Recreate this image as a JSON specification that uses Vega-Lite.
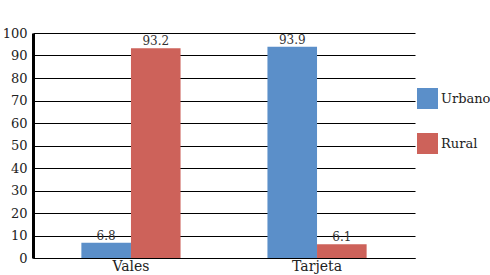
{
  "$schema": "https://vega.github.io/schema/vega-lite/v6.json",
  "autosize": {"type": "none"},
  "padding": {"left": 33, "top": 33, "right": 75, "bottom": 17},
  "width": 382,
  "height": 225,
  "background": "white",
  "config": {"view": {"stroke": null}, "font": "DejaVu Serif",
    "axis": {"labelFont": "DejaVu Serif"}, "legend": {"labelFont": "DejaVu Serif"}, "text": {"font": "DejaVu Serif"}},
  "data": {"values": [
    {"cat": "Vales", "area": "Urbano", "pct": 6.8},
    {"cat": "Vales", "area": "Rural", "pct": 93.2},
    {"cat": "Tarjeta", "area": "Urbano", "pct": 93.9},
    {"cat": "Tarjeta", "area": "Rural", "pct": 6.1}
  ]},
  "encoding": {
    "x": {"field": "cat", "type": "nominal", "sort": ["Vales", "Tarjeta"],
      "scale": {"paddingInner": 0.467, "paddingOuter": 0.26},
      "axis": {"title": null, "labelAngle": 0, "labelFontSize": 14, "labelColor": "#222", "ticks": false, "labelPadding": 1, "domainColor": "#000", "domainWidth": 1}},
    "xOffset": {"field": "area", "type": "nominal", "sort": ["Urbano", "Rural"]},
    "y": {"field": "pct", "type": "quantitative",
      "scale": {"domain": [0, 100]},
      "axis": {"title": null, "values": [0,10,20,30,40,50,60,70,80,90,100], "labelFontSize": 13, "labelColor": "#222", "ticks": false, "labelPadding": 6, "domainColor": "#000", "domainWidth": 3, "gridColor": "#000", "gridWidth": 1, "gridOpacity": 1}}
  },
  "layer": [
    {"mark": {"type": "bar"},
     "encoding": {"color": {"field": "area", "type": "nominal", "sort": ["Urbano", "Rural"],
       "scale": {"domain": ["Urbano", "Rural"], "range": ["#5B8FC9", "#CD625A"]},
       "legend": {"title": null, "orient": "none", "legendX": 384, "legendY": 55, "symbolType": "square", "symbolSize": 441, "symbolStrokeWidth": 0, "labelFontSize": 13, "labelColor": "#222", "rowPadding": 24, "labelOffset": 3}}}},
    {"mark": {"type": "text", "dy": -7, "fontSize": 12, "color": "#333", "font": "DejaVu Serif"},
     "encoding": {"text": {"field": "pct", "type": "quantitative", "format": ".1f"}}}
  ]
}
